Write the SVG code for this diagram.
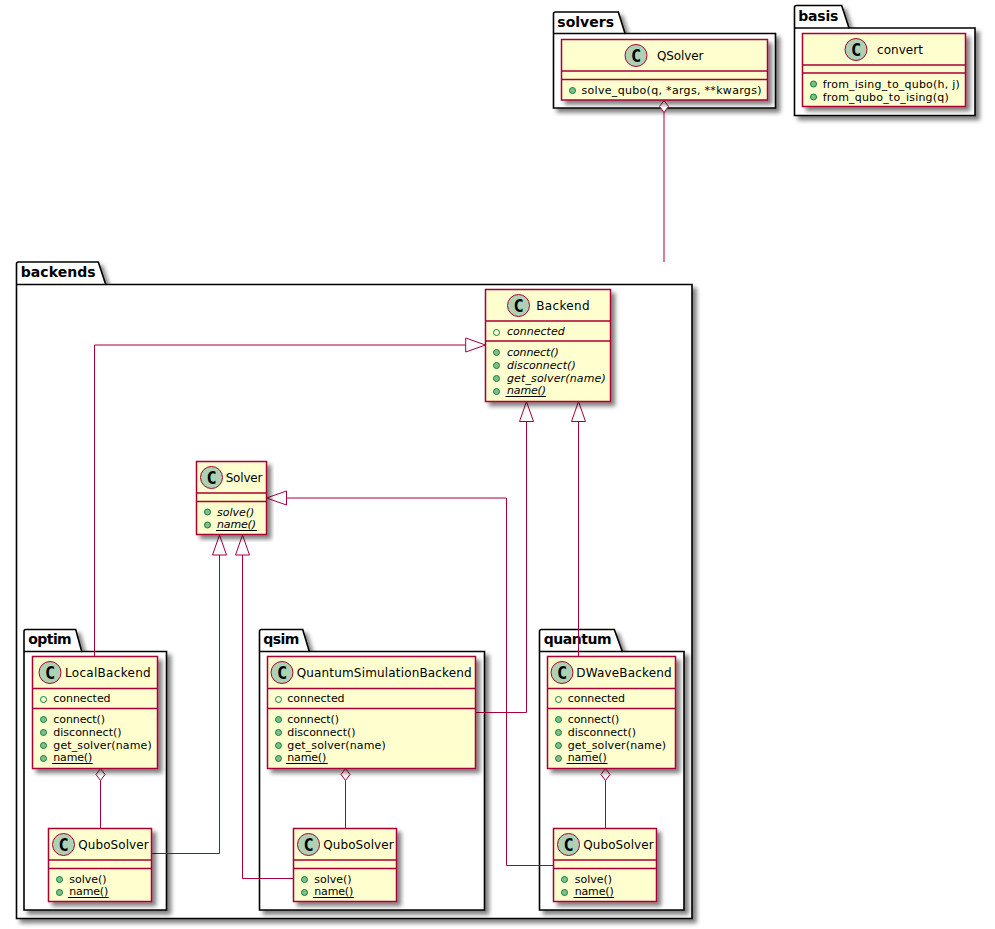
<svg xmlns="http://www.w3.org/2000/svg" width="995" height="929" viewBox="0 0 995 929">
<defs>
<filter id="shadow" x="-5%" y="-5%" width="115%" height="115%">
<feGaussianBlur in="SourceAlpha" stdDeviation="2" result="b"/>
<feOffset in="b" dx="4" dy="4" result="o"/>
<feComponentTransfer in="o" result="s"><feFuncA type="linear" slope="0.5"/></feComponentTransfer>
<feMerge><feMergeNode in="s"/><feMergeNode in="SourceGraphic"/></feMerge>
</filter>
</defs>
<style>
text{font-family:"DejaVu Sans",sans-serif;font-size:11px;fill:#000}
.pk{fill:#fff;stroke:#000;stroke-width:1.6;filter:url(#shadow)}
.pl{fill:none;stroke:#000;stroke-width:1.5}
.pt{font-weight:bold;font-size:14px}
.box{fill:#FEFECE;stroke:#A80036;stroke-width:1.5;filter:url(#shadow)}
.dv{stroke:#A80036;stroke-width:1.5}
.ci{fill:#ADD1B2;stroke:#A80036;stroke-width:1}
.c{font-family:"DejaVu Sans Mono",monospace;font-weight:bold;font-size:17px;text-anchor:middle}
.nm{font-size:12px}
.m{fill:#84BE84;stroke:#038048;stroke-width:1}
.f{fill:none;stroke:#038048;stroke-width:1}
.i{font-style:italic}
.ul{stroke:#000;stroke-width:1}
.ln{fill:none;stroke:#A80036;stroke-width:1}
.ar{fill:#fff;stroke:#A80036;stroke-width:1}
</style>

<!-- packages, outermost first -->
<g id="pkg-solvers"><path class="pk" d="M553.500 14q0-2 2-2H618.300L625 33.500H775.500V108H553.500Z"/><path class="pl" d="M553.500 33.500H625"/><text class="pt" x="557.300" y="26.800" textLength="56.700">solvers</text></g>
<g id="pkg-basis"><path class="pk" d="M794.500 7.500q0-2 2-2H841.700L849 28H975V115.500H794.500Z"/><path class="pl" d="M794.500 28H849"/><text class="pt" x="798.300" y="20.800" textLength="40">basis</text></g>
<g id="pkg-backends"><path class="pk" d="M16.500 264q0-2 2-2H98.300L105.700 284.500H692V918.500H16.500Z"/><path class="pl" d="M16.500 284.500H105.700"/><text class="pt" x="20.700" y="277" textLength="75">backends</text></g>
<g id="pkg-optim"><path class="pk" d="M24 631.500q0-2 2-2H75.700L81.700 651.500H166.500V910H24Z"/><path class="pl" d="M24 651.500H81.700"/><text class="pt" x="28.300" y="644" textLength="43.400">optim</text></g>
<g id="pkg-qsim"><path class="pk" d="M259.500 631.500q0-2 2-2H302.700L309.300 651.500H484.500V910H259.500Z"/><path class="pl" d="M259.500 651.500H309.300"/><text class="pt" x="263.300" y="644" textLength="36">qsim</text></g>
<g id="pkg-quantum"><path class="pk" d="M539.500 631.500q0-2 2-2H614.300L622.300 651.500H684V910H539.500Z"/><path class="pl" d="M539.500 651.500H622.300"/><text class="pt" x="543.700" y="644" textLength="68">quantum</text></g>

<g id="connectors">
<path class="ln" d="M664 112V262"/>
<path class="ar" d="M664 100.500l4.500 6-4.500 6-4.500-6Z"/>
<path class="ln" d="M94.500 656.500V345H466"/>
<path class="ar" d="M485.500 345L465.700 338v14Z"/>
<path class="ln" d="M526.500 421.500V712.500H475"/>
<path class="ar" d="M526.500 401.500l-7 20h14Z"/>
<path class="ln" d="M578.500 421.500V656.500"/>
<path class="ar" d="M578.500 401.500l-7 20h14Z"/>
<path class="ln" d="M219.500 555V853.500H151.500"/>
<path class="ar" d="M219.500 535l-7 20h14Z"/>
<path class="ln" d="M242.500 555V878.500H293.500"/>
<path class="ar" d="M242.500 535l-7 20h14Z"/>
<path class="ln" d="M286 498H506.500V865.500H553.500"/>
<path class="ar" d="M266.500 498l20-7v14Z"/>
<path class="ln" d="M100.500 780.500V828.500"/>
<path class="ar" d="M100.500 768.500l4.500 6-4.500 6-4.500-6Z"/>
<path class="ln" d="M345.500 780.500V828.500"/>
<path class="ar" d="M345.500 768.500l4.500 6-4.500 6-4.500-6Z"/>
<path class="ln" d="M605.500 780.500V828.500"/>
<path class="ar" d="M605.500 768.500l4.500 6-4.500 6-4.500-6Z"/>
</g>

<g id="QSolver">
<rect class="box" x="561.500" y="39.500" width="206" height="60.500"/>
<path class="dv" d="M561.500 71H767.500M561.500 79.500H767.500"/>
<circle class="ci" cx="636" cy="55.500" r="11"/><text class="c" x="636" y="61.500">C</text>
<text class="nm" x="657" y="60" textLength="46.500">QSolver</text>
<circle class="m" cx="572.500" cy="90.500" r="3"/><text x="581.500" y="94" textLength="180">solve_qubo(q, *args, **kwargs)</text>
</g>

<g id="convert">
<rect class="box" x="802.500" y="33.500" width="163" height="73"/>
<path class="dv" d="M802.500 65H965.500M802.500 73H965.500"/>
<circle class="ci" cx="856" cy="49.500" r="11"/><text class="c" x="856" y="55.500">C</text>
<text class="nm" x="877" y="53.500" textLength="46">convert</text>
<circle class="m" cx="813.500" cy="84" r="3"/><text x="822.700" y="87.500" textLength="137">from_ising_to_qubo(h, j)</text>
<circle class="m" cx="813.500" cy="97" r="3"/><text x="822.700" y="100.500" textLength="126">from_qubo_to_ising(q)</text>
</g>

<g id="Backend">
<rect class="box" x="485.500" y="289.500" width="125" height="112"/>
<path class="dv" d="M485.500 321H610.500M485.500 341H610.500"/>
<circle class="ci" cx="518.500" cy="305.500" r="11"/><text class="c" x="518.500" y="311.500">C</text>
<text class="nm" x="536.300" y="309.500" textLength="53.300">Backend</text>
<circle class="f" cx="496.500" cy="332.500" r="3"/><text class="i" x="507" y="335" textLength="57.700">connected</text>
<circle class="m" cx="496.500" cy="352.500" r="3"/><text class="i" x="507" y="356" textLength="51.700">connect()</text>
<circle class="m" cx="496.500" cy="365.500" r="3"/><text class="i" x="507" y="369" textLength="68.700">disconnect()</text>
<circle class="m" cx="496.500" cy="378.500" r="3"/><text class="i" x="507" y="382" textLength="98.700">get_solver(name)</text>
<circle class="m" cx="496.500" cy="391.500" r="3"/><text class="i" x="507" y="394" textLength="39">name()</text><path class="ul" d="M505.500 396.500H546"/>
</g>

<g id="Solver">
<rect class="box" x="196.500" y="461.500" width="70" height="73"/>
<path class="dv" d="M196.500 493H266.500M196.500 501.500H266.500"/>
<circle class="ci" cx="211.500" cy="477.500" r="11"/><text class="c" x="211.500" y="483.500">C</text>
<text class="nm" x="225.700" y="481.500" textLength="36.700">Solver</text>
<circle class="m" cx="207.500" cy="512" r="3"/><text class="i" x="217" y="515.500" textLength="37.300">solve()</text>
<circle class="m" cx="207.500" cy="525" r="3"/><text class="i" x="217" y="528" textLength="39">name()</text><path class="ul" d="M216 530.500H257"/>
</g>

<g id="LocalBackend">
<rect class="box" x="32.500" y="656.500" width="125" height="112"/>
<path class="dv" d="M32.500 688.500H157.500M32.500 708.500H157.500"/>
<circle class="ci" cx="50" cy="672.500" r="11"/><text class="c" x="50" y="678.500">C</text>
<text class="nm" x="65" y="676.500" textLength="85.700">LocalBackend</text>
<circle class="f" cx="43.500" cy="699.500" r="3"/><text x="53.300" y="702.300" textLength="57.300">connected</text>
<circle class="m" cx="43.500" cy="719.500" r="3"/><text x="53.300" y="723.300" textLength="51.700">connect()</text>
<circle class="m" cx="43.500" cy="732.500" r="3"/><text x="53.300" y="736.300" textLength="68.300">disconnect()</text>
<circle class="m" cx="43.500" cy="745.500" r="3"/><text x="53.300" y="749.300" textLength="98.400">get_solver(name)</text>
<circle class="m" cx="43.500" cy="758.500" r="3"/><text x="53.300" y="761" textLength="39">name()</text><path class="ul" d="M52 763.500H92.700"/>
</g>

<g id="QuboSolverOptim">
<rect class="box" x="48.500" y="828.500" width="103" height="73"/>
<path class="dv" d="M48.500 860H151.500M48.500 868.500H151.500"/>
<circle class="ci" cx="63.500" cy="844.500" r="11"/><text class="c" x="63.500" y="850.500">C</text>
<text class="nm" x="78.300" y="848.500" textLength="70.300">QuboSolver</text>
<circle class="m" cx="59.500" cy="879.500" r="3"/><text x="69.300" y="882.500" textLength="37.300">solve()</text>
<circle class="m" cx="59.500" cy="892.500" r="3"/><text x="69.300" y="895.300" textLength="39">name()</text><path class="ul" d="M68 897.500H108.700"/>
</g>

<g id="QuantumSimulationBackend">
<rect class="box" x="267.500" y="656.500" width="208" height="112"/>
<path class="dv" d="M267.500 688.500H475.500M267.500 708.500H475.500"/>
<circle class="ci" cx="282" cy="672.500" r="11"/><text class="c" x="282" y="678.500">C</text>
<text class="nm" x="296.700" y="676.500" textLength="175">QuantumSimulationBackend</text>
<circle class="f" cx="278.500" cy="699.500" r="3"/><text x="287.300" y="702.300" textLength="57.300">connected</text>
<circle class="m" cx="278.500" cy="719.500" r="3"/><text x="287.300" y="723.300" textLength="51.700">connect()</text>
<circle class="m" cx="278.500" cy="732.500" r="3"/><text x="287.300" y="736.300" textLength="68.300">disconnect()</text>
<circle class="m" cx="278.500" cy="745.500" r="3"/><text x="287.300" y="749.300" textLength="98.400">get_solver(name)</text>
<circle class="m" cx="278.500" cy="758.500" r="3"/><text x="287.300" y="761" textLength="39">name()</text><path class="ul" d="M286 763.500H327.700"/>
</g>

<g id="QuboSolverQsim">
<rect class="box" x="293.500" y="828.500" width="103" height="73"/>
<path class="dv" d="M293.500 860H396.500M293.500 868.500H396.500"/>
<circle class="ci" cx="308.500" cy="844.500" r="11"/><text class="c" x="308.500" y="850.500">C</text>
<text class="nm" x="323.300" y="848.500" textLength="70.300">QuboSolver</text>
<circle class="m" cx="304.500" cy="879.500" r="3"/><text x="314.300" y="882.500" textLength="37.300">solve()</text>
<circle class="m" cx="304.500" cy="892.500" r="3"/><text x="314.300" y="895.300" textLength="39">name()</text><path class="ul" d="M313 897.500H353.700"/>
</g>

<g id="DWaveBackend">
<rect class="box" x="547.500" y="656.500" width="128" height="112"/>
<path class="dv" d="M547.500 688.500H675.500M547.500 708.500H675.500"/>
<circle class="ci" cx="562" cy="672.500" r="11"/><text class="c" x="562" y="678.500">C</text>
<text class="nm" x="576.300" y="676.500" textLength="95.300">DWaveBackend</text>
<circle class="f" cx="558.500" cy="699.500" r="3"/><text x="567.700" y="702.300" textLength="57.300">connected</text>
<circle class="m" cx="558.500" cy="719.500" r="3"/><text x="567.700" y="723.300" textLength="51.700">connect()</text>
<circle class="m" cx="558.500" cy="732.500" r="3"/><text x="567.700" y="736.300" textLength="68.300">disconnect()</text>
<circle class="m" cx="558.500" cy="745.500" r="3"/><text x="567.700" y="749.300" textLength="98.400">get_solver(name)</text>
<circle class="m" cx="558.500" cy="758.500" r="3"/><text x="567.700" y="761" textLength="39">name()</text><path class="ul" d="M566.500 763.500H607.500"/>
</g>

<g id="QuboSolverQuantum">
<rect class="box" x="553.500" y="828.500" width="103" height="73"/>
<path class="dv" d="M553.500 860H656.500M553.500 868.500H656.500"/>
<circle class="ci" cx="568.500" cy="844.500" r="11"/><text class="c" x="568.500" y="850.500">C</text>
<text class="nm" x="583.300" y="848.500" textLength="70.300">QuboSolver</text>
<circle class="m" cx="564.500" cy="879.500" r="3"/><text x="574.700" y="882.500" textLength="37.300">solve()</text>
<circle class="m" cx="564.500" cy="892.500" r="3"/><text x="574.700" y="895.300" textLength="39">name()</text><path class="ul" d="M573.500 897.500H614"/>
</g>
</svg>
